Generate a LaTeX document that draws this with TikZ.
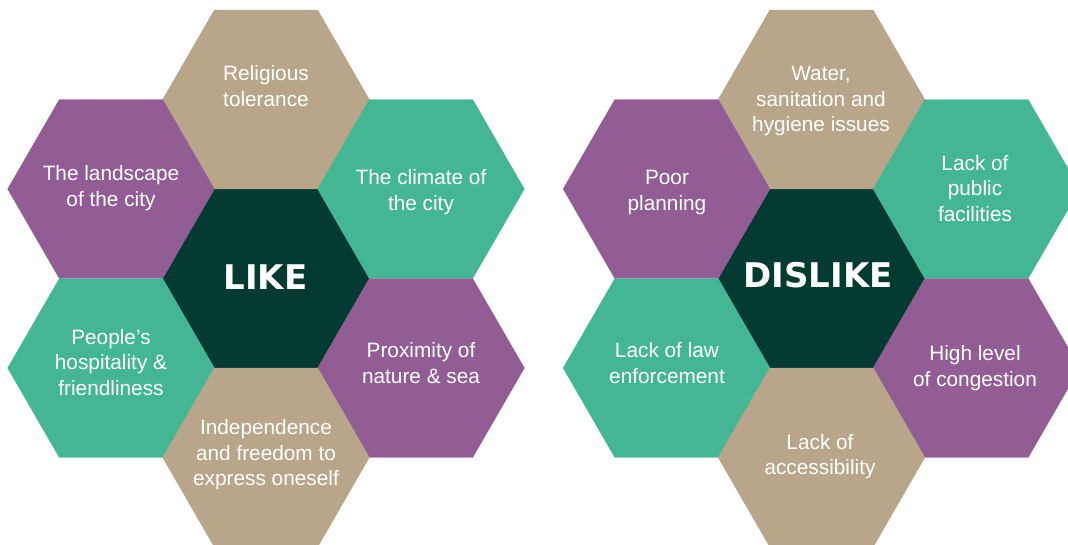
\documentclass[tikz,border=0pt]{standalone}
\usepackage{fontspec}
\setmainfont{Liberation Sans}
\newfontfamily\heavyfont{DejaVu Sans}
\usetikzlibrary{shapes.geometric}
\definecolor{hexTan}{RGB}{184,165,138}
\definecolor{hexPurple}{RGB}{146,92,149}
\definecolor{hexGreen}{RGB}{68,182,148}
\definecolor{hexDark}{RGB}{3,58,49}
\newcommand{\hexstrut}{\rule[-4pt]{0pt}{23.2pt}}

\begin{document}
\begin{tikzpicture}[
    x=1pt, y=-1pt,
    hex/.style={regular polygon, regular polygon sides=6, minimum size=206.6pt, inner sep=0pt, outer sep=0pt, fill=#1, draw=#1, line width=0.4pt},
    hextext/.style={text=white, align=center, inner sep=0pt, font=\fontsize{20.8}{25.5}\selectfont, execute at begin node=\hexstrut, execute at end node=\hexstrut},
    headtext/.style={text=white, inner sep=0pt, font=\heavyfont\bfseries\fontsize{34}{40}\selectfont}
]
    \useasboundingbox (0,0) rectangle (1068,544);
    \clip (0,0) rectangle (1068,544);

    % Cosa piace
    \node[hex=hexDark] (like) at (266,278.5) {};
    \node[hex=hexTan] (religion) at (266,99.5) {};
    \node[hex=hexPurple] (landscape) at (111,189) {};
    \node[hex=hexGreen] (climate) at (421,189) {};
    \node[hex=hexGreen] (hospitality) at (111,368) {};
    \node[hex=hexPurple] (nature) at (421,368) {};
    \node[hex=hexTan] (freedom) at (266,457.5) {};

    \node[headtext] (like-txt) at (265.5,277) {LIKE};
    \node[hextext] (religion-txt) at (266,88) {Religious\\tolerance};
    \node[hextext] (landscape-txt) at (111,188) {The landscape\\of the city};
    \node[hextext] (climate-txt) at (421,192) {The climate of\\the city};
    \node[hextext] (hospitality-txt) at (111,364) {People’s\\hospitality \&\\friendliness};
    \node[hextext] (nature-txt) at (421,365) {Proximity of\\nature \& sea};
    \node[hextext] (freedom-txt) at (266,455) {Independence\\and freedom to\\express oneself};

    % Cosa non piace
    \node[hex=hexDark] (dislike) at (821.5,278.5) {};
    \node[hex=hexTan] (water) at (821.5,99.5) {};
    \node[hex=hexPurple] (planning) at (666.5,189) {};
    \node[hex=hexGreen] (facilities) at (976.5,189) {};
    \node[hex=hexGreen] (law) at (666.5,368) {};
    \node[hex=hexPurple] (congestion) at (976.5,368) {};
    \node[hex=hexTan] (access) at (821.5,457.5) {};

    \node[headtext] (dislike-txt) at (818,275) {DISLIKE};
    \node[hextext] (water-txt) at (821,101) {Water,\\sanitation and\\hygiene issues};
    \node[hextext] (planning-txt) at (667,192.5) {Poor\\planning};
    \node[hextext] (facilities-txt) at (975,190) {Lack of\\public\\facilities};
    \node[hextext] (law-txt) at (667,365) {Lack of law\\enforcement};
    \node[hextext] (congestion-txt) at (975,368) {High level\\of congestion};
    \node[hextext] (access-txt) at (820,456.5) {Lack of\\accessibility};

\end{tikzpicture}
\end{document}
